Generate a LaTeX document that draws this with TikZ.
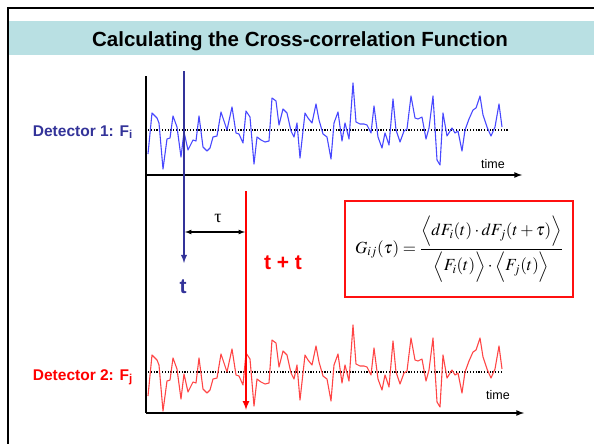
\documentclass[tikz,border=0pt]{standalone}
\usepackage{mathptmx}
\usepackage[no-math]{fontspec}
\setmainfont{Liberation Sans}
\newfontfamily\taufont{Liberation Serif}
\definecolor{band}{HTML}{B9E0E3}
\definecolor{darkblue}{HTML}{333399}
\definecolor{sigblue}{HTML}{4848FF}
\definecolor{sigred}{HTML}{FF4545}
\definecolor{boxred}{HTML}{FF1010}
% one noisy record, drawn for both detectors
\newcommand{\noisetrace}{(148,24) -- (152,-17) -- (157,-12) -- (159,-7) -- (163,39) -- (167,9) -- (170,8) -- (173,-14) -- (177,-3) -- (181,27) -- (184,2) -- (188,20) -- (193,10) -- (196,11) -- (199,-14) -- (203,17) -- (207,21) -- (210,18) -- (213,7) -- (217,6) -- (221,-18) -- (227,0) -- (232,-23) -- (236,3) -- (239,4) -- (243,13) -- (246,-19) -- (250,-13) -- (254,34) -- (257,7) -- (261,10) -- (265,12) -- (269,11) -- (272,-32) -- (276,-29) -- (279,-5) -- (283,-21) -- (287,-17) -- (291,1) -- (294,7) -- (297,-7) -- (300,28) -- (305,-17) -- (308,-12) -- (312,-7) -- (316,-26) -- (319,-10) -- (323,4) -- (327,7) -- (331,29) -- (334,-7) -- (338,-18) -- (342,11) -- (345,-7) -- (349,9) -- (353,-47) -- (356,-8) -- (360,-6) -- (364,-6) -- (367,-5) -- (371,3) -- (374,-24) -- (378,7) -- (382,18) -- (385,3) -- (389,15) -- (393,-31) -- (396,0) -- (400,12) -- (404,1) -- (407,-1) -- (411,-34) -- (415,-12) -- (418,-11) -- (422,-13) -- (426,9) -- (429,-2) -- (433,-34) -- (437,30) -- (440,35) -- (443,-17) -- (447,6) -- (452,-2) -- (455,3) -- (458,1) -- (462,21) -- (465,0) -- (469,-11) -- (473,-20) -- (476,-22) -- (480,-34) -- (483,-15) -- (487,-3) -- (491,6) -- (495,-3) -- (499,-26) -- (502,-3)}

\begin{document}
\begin{tikzpicture}[x=1pt,y=-1pt,
    axis/.style={line width=1.6pt},
    signal/.style={line width=1.1pt, line join=round},
    meanline/.style={line width=1.2pt, dash pattern=on 1.2pt off 1.6pt},
    detlabel/.style={font=\bfseries\fontsize{15.5}{18}\selectfont, inner sep=0pt},
    timelabel/.style={font=\fontsize{12.5}{14}\selectfont, inner sep=0pt}]
    \useasboundingbox (0,0) rectangle (594,444);

    % slide frame and title
    \fill[band] (9,21) rectangle (594,55);
    \draw[line width=2pt] (8,444) -- (8,8.5) -- (594,8.5);
    \node[font=\bfseries\fontsize{20.5}{24}\selectfont, anchor=base] (title) at (300,47) {Calculating the Cross-correlation Function};

    % formula box
    \draw[color=boxred, line width=1.3pt] (345,201) rectangle (573,297);

    % axes
    \draw[axis] (146,76) -- (146,413);
    \draw[axis,-latex] (146,175) -- (522,175);
    \draw[axis,-latex] (146,413) -- (524,413);
    \node[timelabel, anchor=base] (time1) at (493,168) {time};
    \node[timelabel, anchor=base] (time2) at (498,399) {time};

    % detector 1
    \draw[meanline] (148,130) -- (509,130);
    \begin{scope}[shift={(0,130)}]
        \draw[signal, sigblue] \noisetrace;
    \end{scope}
    \node[detlabel, darkblue, anchor=base east] (det1) at (133,136) {Detector 1: F\textsubscript{i}};

    % detector 2
    \draw[meanline] (148,372) -- (503,372);
    \begin{scope}[shift={(0,372)}]
        \draw[signal, sigred] \noisetrace;
    \end{scope}
    \node[detlabel, red, anchor=base east] (det2) at (133,380) {Detector 2: F\textsubscript{j}};

    % the two times and the lag
    \coordinate (tTop) at (184,71);
    \coordinate (tBot) at (184,263);
    \coordinate (ttTop) at (246,191);
    \coordinate (ttBot) at (246,410);
    \draw[darkblue, line width=1.8pt, -latex] (tTop) -- (tBot);
    \draw[red, line width=2pt, -latex] (ttTop) -- (ttBot);
    \node[font=\bfseries\fontsize{21}{24}\selectfont, darkblue, anchor=base] (tlab) at (183,293) {t};
    \node[font=\bfseries\fontsize{21}{24}\selectfont, red, anchor=base] (ttlab) at (283,269) {t + t};

    \coordinate (tauL) at (185,232);
    \coordinate (tauR) at (245,232);
    \draw[latex-latex, line width=1.2pt] (tauL) -- (tauR);
    \node[font=\taufont\fontsize{18}{20}\selectfont, anchor=base] (tau) at (218,222) {τ};

    % formula
    \node[inner sep=0pt] (formula) at (459,249)
        {\fontsize{17}{21}\selectfont $\displaystyle G_{ij}(\tau)=\frac{\Bigl\langle dF_i(t)\cdot dF_j(t+\tau)\Bigr\rangle}{\Bigl\langle F_i(t)\Bigr\rangle\cdot\Bigl\langle F_j(t)\Bigr\rangle}$};
\end{tikzpicture}
\end{document}
